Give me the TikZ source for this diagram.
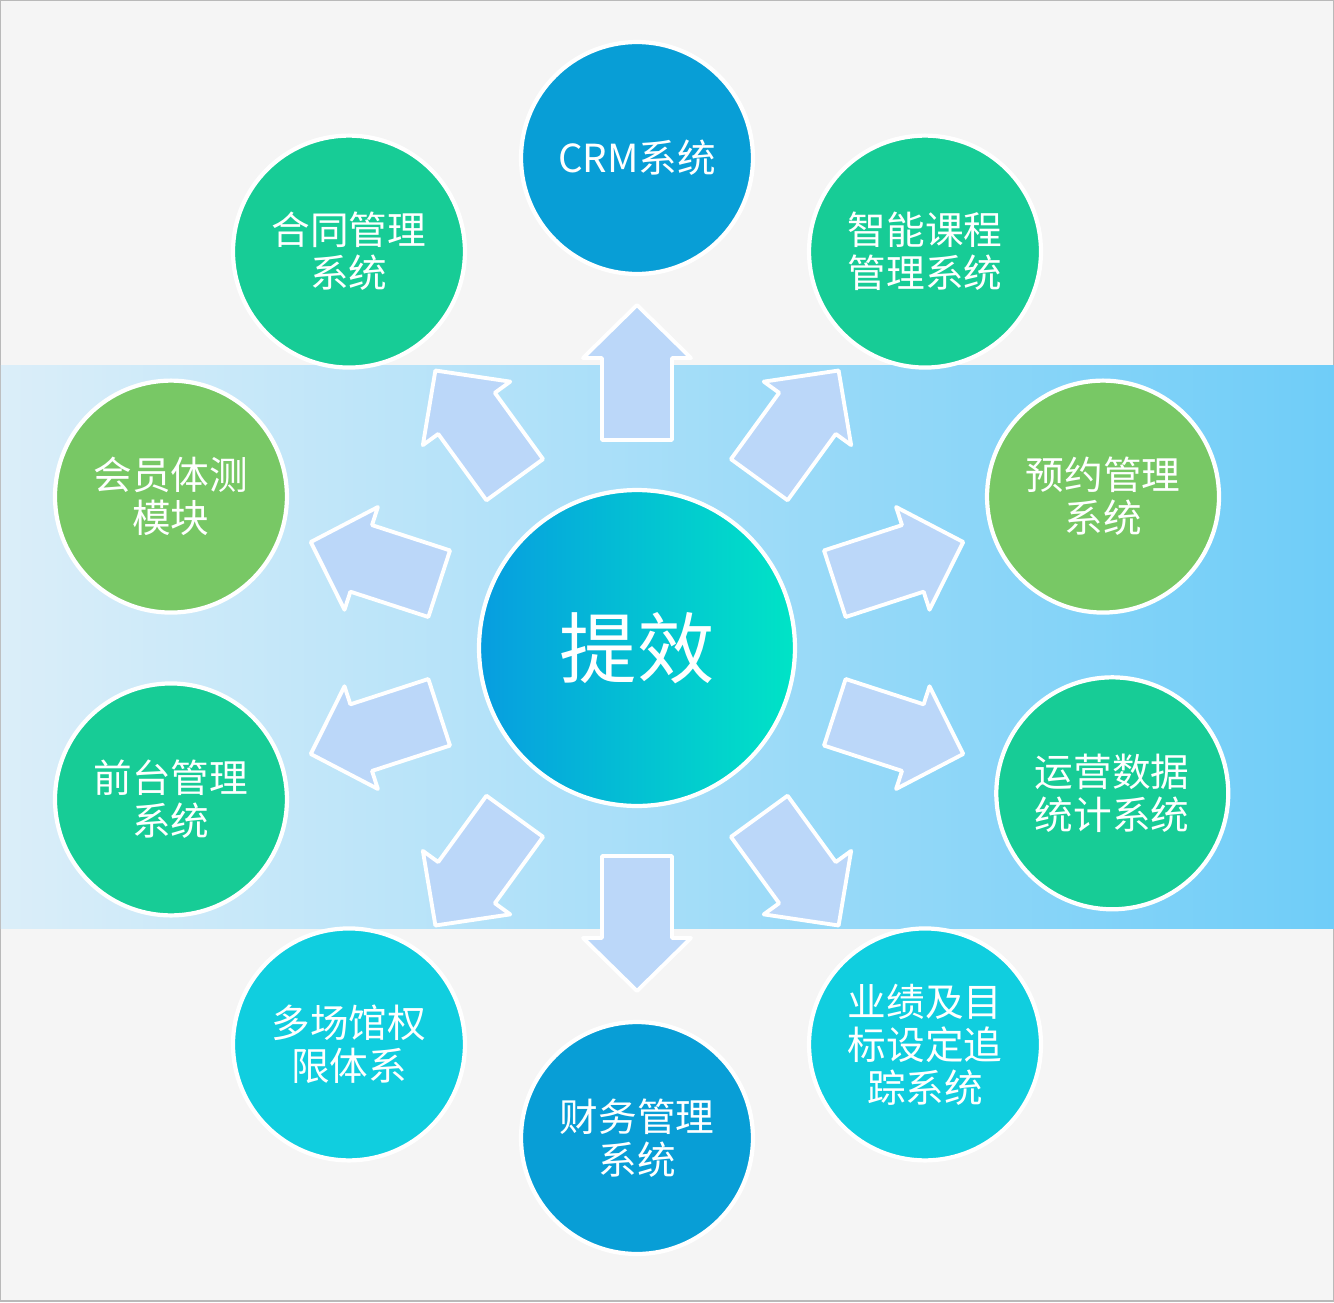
\documentclass[tikz,border=0pt]{standalone}
\usepackage{fontspec}
\setmainfont{Noto Sans CJK SC}
\usepackage{tikz}
\usetikzlibrary{calc}

\definecolor{bgpage}{HTML}{F5F5F5}
\definecolor{bandleft}{HTML}{DBEEF9}
\definecolor{bandright}{HTML}{6FCDF8}
\definecolor{arrowfill}{HTML}{BBD7F9}
\definecolor{sysblue}{HTML}{089ED6}
\definecolor{systeal}{HTML}{17CC96}
\definecolor{sysgreen}{HTML}{78C865}
\definecolor{syscyan}{HTML}{10CEDF}
\definecolor{coreleft}{HTML}{079DE0}
\definecolor{coreright}{HTML}{00E4C6}

\begin{document}
\begin{tikzpicture}[x=0.02cm, y=0.02cm,
    sysnode/.style={circle, draw=white, line width=2.4pt, minimum size=4.64cm,
        text=white, align=center, font=\fontsize{22}{24.5}\selectfont, inner sep=0pt},
    blockarrow/.style={fill=arrowfill, draw=white, line width=2.2pt, line join=round}]
        \useasboundingbox (-637,-654) rectangle (697,648);
        \fill[bgpage] (-637,-654) rectangle (697,648);
        \draw[gray!55, line width=0.6pt] (-636.5,-653) rectangle (696.5,647.5);
        
        \shade[left color=bandleft, right color=bandright] (-636,-280) rectangle (697,283);
        
        \foreach \a in {18,54,...,342}
            \draw[blockarrow, rotate=\a] (208,-35) -- (290,-35) -- (290,-54) -- (343,0) -- (290,54) -- (290,35) -- (208,35) -- cycle;
        
        \node[circle, draw=white, line width=2.4pt, minimum size=6.32cm, left color=coreleft, right color=coreright,
            text=white, font=\fontsize{44}{48}\selectfont] (tixiao) at (0,0) {提效};
        
        \node[sysnode, fill=sysblue] (crm) at (90:490) {CRM系统};
        \node[sysnode, fill=systeal] (zhineng) at (54:490) {智能课程\\管理系统};
        \node[sysnode, fill=sysgreen] (yuyue) at (18:490) {预约管理\\系统};
        \node[sysnode, fill=systeal] (yunying) at (-17:497) {运营数据\\统计系统};
        \node[sysnode, fill=syscyan] (yeji) at (-54:490) {业绩及目\\标设定追\\踪系统};
        \node[sysnode, fill=sysblue] (caiwu) at (-90:490) {财务管理\\系统};
        \node[sysnode, fill=syscyan] (duochang) at (-126:490) {多场馆权\\限体系};
        \node[sysnode, fill=systeal] (qiantai) at (-162:490) {前台管理\\系统};
        \node[sysnode, fill=sysgreen] (huiyuan) at (162:490) {会员体测\\模块};
        \node[sysnode, fill=systeal] (hetong) at (126:490) {合同管理\\系统};
    \end{tikzpicture}
\end{document}
